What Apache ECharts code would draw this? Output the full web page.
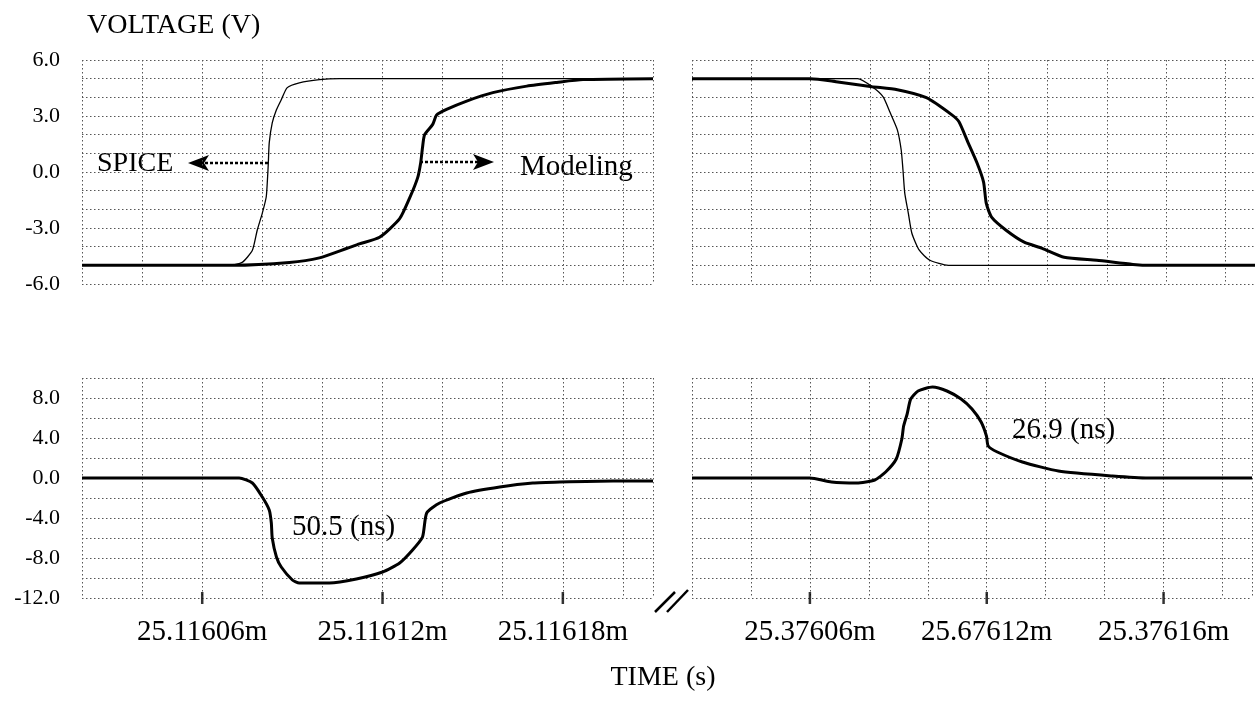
<!DOCTYPE html>
<html>
<head>
<meta charset="utf-8">
<script src="https://cdn.jsdelivr.net/npm/echarts@6/dist/echarts.min.js"></script>
<style>
html,body{margin:0;padding:0;background:#fff;}
#chart{width:1255px;height:703px;}
</style>
</head>
<body>
<div id="chart"></div>
<script>
// ---------- DATA (time in ns, voltage in V) ----------
const leftTickValues  = [25116060, 25116120, 25116180];
const leftTickLabels  = ['25.11606m', '25.11612m', '25.11618m'];
const rightTickValues = [25376060, 25376120, 25376180];
const rightTickLabels = ['25.37606m', '25.67612m', '25.37616m'];

const topYTicks    = [-6, -3, 0, 3, 6];
const bottomYTicks = [-12, -8, -4, 0, 4, 8];

// rising edge (left)
const spiceRise = [[25116020,-5],[25116069,-5],[25116073.3,-4.84],[25116076.7,-4.19],[25116078.3,-3.12],
  [25116080,-2.2],[25116081.3,-1.34],[25116081.7,-0.43],[25116082,0.48],[25116082.3,1.56],[25116083.3,2.63],
  [25116084.7,3.33],[25116086.3,3.87],[25116088.3,4.52],[25116092.3,4.78],[25116099,4.95],[25116105.7,5],[25116210,5]];
const modelRise = [[25116020,-5],[25116070,-5],[25116089,-4.85],[25116099,-4.6],[25116108,-4.1],[25116112.3,-3.85],
  [25116119,-3.5],[25116125.7,-2.5],[25116129,-1.4],[25116131.7,-0.3],[25116132.7,0.5],[25116133.3,1.3],[25116134,2.0],
  [25116136.7,2.55],[25116138,3.05],[25116141.3,3.35],[25116148,3.8],[25116156.7,4.25],[25116168,4.6],[25116178,4.8],
  [25116186.7,4.95],[25116210,5]];
// difference (left)
const diffRise = [[25116020,0],[25116072.3,0],[25116076.7,-0.5],[25116080,-1.9],[25116082.3,-3.2],[25116083,-4.5],
  [25116083.3,-6.0],[25116084.7,-7.9],[25116086.3,-8.9],[25116090,-10.2],[25116092.3,-10.5],[25116102.3,-10.5],
  [25116111.3,-10.1],[25116120,-9.4],[25116125.7,-8.5],[25116130,-7.2],[25116133.3,-5.9],[25116134.7,-3.5],
  [25116139,-2.5],[25116148,-1.5],[25116159,-0.9],[25116170,-0.5],[25116179,-0.4],[25116196.7,-0.3],[25116210,-0.3]];

// falling edge (right)
const spiceFall = [[25376020,5],[25376075.9,5],[25376080.8,4.57],[25376084.5,4.03],[25376086.9,3.17],[25376089.3,2.26],
  [25376090.6,1.18],[25376091.2,0.11],[25376091.8,-1.13],[25376093,-2.2],[25376094.2,-3.28],[25376096.7,-4.19],
  [25376100.3,-4.73],[25376106.5,-5],[25376210,-5]];
const modelFall = [[25376020,5],[25376060,5],[25376068.6,4.84],[25376080.8,4.57],[25376089.3,4.41],[25376099.1,3.98],
  [25376107.7,3.06],[25376110.1,2.69],[25376113.2,1.56],[25376116.2,0.48],[25376118.4,-0.54],[25376119.3,-1.67],
  [25376121.1,-2.42],[25376126,-3.12],[25376132.1,-3.76],[25376138.2,-4.09],[25376145.6,-4.57],[25376156.6,-4.73],
  [25376168.8,-4.95],[25376174.9,-5],[25376210,-5]];
const diffFall = [[25376020,0],[25376060,0],[25376067.3,-0.4],[25376075.9,-0.5],[25376082,-0.2],[25376085.7,0.6],
  [25376089.3,1.9],[25376091.2,3.9],[25376091.8,5.2],[25376093,6.4],[25376094.2,7.9],[25376096.7,8.7],[25376101.6,9.1],
  [25376106.5,8.7],[25376111.3,7.9],[25376115,6.9],[25376118.1,5.6],[25376119.9,4.2],[25376120.5,3.2],[25376123.6,2.6],
  [25376132.1,1.6],[25376144.3,0.7],[25376162.7,0.2],[25376174.9,0],[25376210,0]];

// ---------- CHART ----------
const SERIF = '"Liberation Serif","Times New Roman",serif';
const gridLine = {show:true, lineStyle:{color:'#555', width:1, type:[1.5,2.5]}};

function xAxisFor(gridIndex, min, max, tickVals, tickLabels, showLabels){
  return {
    type:'value', gridIndex, min, max, interval:20,
    axisLine:{show:false}, axisTick:{show:false},
    splitLine:gridLine,
    axisLabel:{
      show:showLabels, margin:20, color:'#000', fontFamily:SERIF, fontSize:29,
      formatter:function(v){ const i = tickVals.indexOf(Math.round(v)); return i>=0 ? tickLabels[i] : ''; }
    }
  };
}
function yAxisFor(gridIndex, min, max, interval, minorSplit, ticks, showLabels){
  return {
    type:'value', gridIndex, min, max, interval,
    axisLine:{show:false}, axisTick:{show:false},
    splitLine:gridLine,
    minorTick:{show:false, splitNumber:minorSplit},
    minorSplitLine:gridLine,
    axisLabel:{
      show:showLabels, margin:22, color:'#000', fontFamily:SERIF, fontSize:22,
      formatter:function(v){ return ticks.indexOf(v)>=0 ? v.toFixed(1) : ''; }
    }
  };
}
function lineSeries(xi, data, width){
  return {type:'line', xAxisIndex:xi, yAxisIndex:xi, data, showSymbol:false, smooth:0.2,
    lineStyle:{color:'#000', width}, silent:true, animation:false};
}
function tickMarks(xi, vals, y){
  return {type:'scatter', xAxisIndex:xi, yAxisIndex:xi, data:vals.map(v=>[v,y]),
    symbol:'rect', symbolSize:[2.5,12], itemStyle:{color:'#000'}, silent:true, animation:false};
}

const chart = echarts.init(document.getElementById('chart'));
chart.setOption({
  animation:false,
  backgroundColor:'#fff',
  grid:[
    {left:82,  top:60,  width:571, height:224},
    {left:692, top:60,  width:563, height:224},
    {left:82,  top:378, width:571, height:220},
    {left:692, top:378, width:563, height:220}
  ],
  xAxis:[
    xAxisFor(0, 25116020, 25116210, leftTickValues, leftTickLabels, false),
    xAxisFor(1, 25376020, 25376210, rightTickValues, rightTickLabels, false),
    xAxisFor(2, 25116020, 25116210, leftTickValues, leftTickLabels, true),
    xAxisFor(3, 25376020, 25376210, rightTickValues, rightTickLabels, true)
  ],
  yAxis:[
    yAxisFor(0, -6, 6, 3, 3, topYTicks, true),
    yAxisFor(1, -6, 6, 3, 3, topYTicks, false),
    yAxisFor(2, -12, 10, 4, 2, bottomYTicks, true),
    yAxisFor(3, -12, 10, 4, 2, bottomYTicks, false)
  ],
  series:[
    lineSeries(0, spiceRise, 1.3),
    lineSeries(0, modelRise, 3),
    lineSeries(1, spiceFall, 1.3),
    lineSeries(1, modelFall, 3),
    lineSeries(2, diffRise, 3),
    lineSeries(3, diffFall, 3),
    tickMarks(2, leftTickValues, -12),
    tickMarks(3, rightTickValues, -12)
  ],
  graphic:[
    {type:'text', x:87, y:26, style:{text:'VOLTAGE (V)', font:'28px '+SERIF, fill:'#000', align:'left', verticalAlign:'middle', textAlign:'left', textVerticalAlign:'middle'}},
    {type:'text', x:663, y:678, style:{text:'TIME (s)', font:'28px '+SERIF, fill:'#000', align:'center', verticalAlign:'middle', textAlign:'center', textVerticalAlign:'middle'}},
    {type:'rect', shape:{x:95, y:150, width:82, height:28}, style:{fill:'#fff'}},
    {type:'text', x:97, y:164, style:{text:'SPICE', font:'28px '+SERIF, fill:'#000', align:'left', verticalAlign:'middle', textAlign:'left', textVerticalAlign:'middle'}},
    {type:'rect', shape:{x:518, y:152, width:118, height:32}, style:{fill:'#fff'}},
    {type:'text', x:520, y:167, style:{text:'Modeling', font:'29px '+SERIF, fill:'#000', align:'left', verticalAlign:'middle', textAlign:'left', textVerticalAlign:'middle'}},
    {type:'rect', shape:{x:288, y:511, width:112, height:32}, style:{fill:'#fff'}},
    {type:'text', x:292, y:527, style:{text:'50.5 (ns)', font:'29px '+SERIF, fill:'#000', align:'left', verticalAlign:'middle', textAlign:'left', textVerticalAlign:'middle'}},
    {type:'rect', shape:{x:1008, y:414, width:114, height:32}, style:{fill:'#fff'}},
    {type:'text', x:1012, y:430, style:{text:'26.9 (ns)', font:'29px '+SERIF, fill:'#000', align:'left', verticalAlign:'middle', textAlign:'left', textVerticalAlign:'middle'}},
    // arrows
    {type:'polyline', shape:{points:[[205,163],[268,163]]}, style:{stroke:'#000', lineWidth:2.5, lineDash:[3,2], fill:null}},
    {type:'polygon', shape:{points:[[188,163],[209,155],[204,163],[209,171]]}, style:{fill:'#000'}},
    {type:'polyline', shape:{points:[[420,162],[478,162]]}, style:{stroke:'#000', lineWidth:2.5, lineDash:[3,2], fill:null}},
    {type:'polygon', shape:{points:[[494,162],[473,154],[478,162],[473,170]]}, style:{fill:'#000'}},
    // axis break
    {type:'line', shape:{x1:655, y1:612, x2:675, y2:592}, style:{stroke:'#000', lineWidth:2.5}},
    {type:'line', shape:{x1:667, y1:612, x2:688, y2:590}, style:{stroke:'#000', lineWidth:2.5}}
  ]
});
</script>
</body>
</html>
